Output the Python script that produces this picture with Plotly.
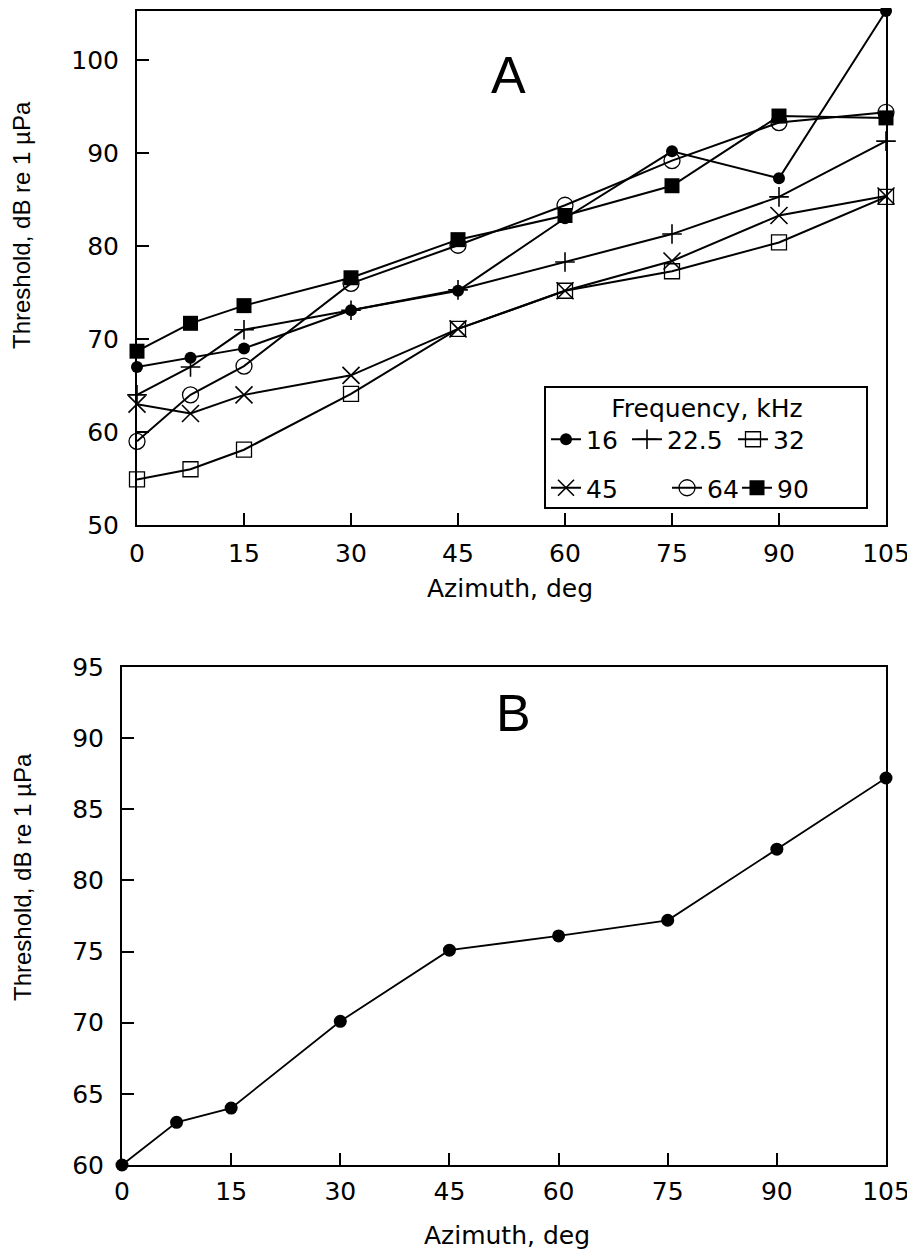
import plotly.graph_objects as go

# ---------------- data ----------------
azimuth = [0, 7.5, 15, 30, 45, 60, 75, 90, 105]

freq_names = ["16", "22.5", "32", "45", "64", "90"]
thr_16 = [67.0, 68.0, 69.0, 73.1, 75.2, 83.0, 90.2, 87.3, 105.3]
thr_22_5 = [64.0, 67.0, 71.0, 73.1, 75.3, 78.3, 81.3, 85.3, 91.3]
thr_32 = [54.9, 56.0, 58.1, 64.1, 71.1, 75.2, 77.3, 80.4, 85.3]
thr_45 = [63.0, 62.0, 64.0, 66.1, 71.1, 75.2, 78.4, 83.3, 85.4]
thr_64 = [59.0, 64.0, 67.1, 76.0, 80.1, 84.4, 89.2, 93.3, 94.4]
thr_90 = [68.7, 71.7, 73.6, 76.6, 80.7, 83.3, 86.5, 94.0, 93.8]

thr_b = [60.0, 63.0, 64.0, 70.1, 75.1, 76.1, 77.2, 82.2, 87.2]

x_ticks = [0, 15, 30, 45, 60, 75, 90, 105]
y_ticks_a = [50, 60, 70, 80, 90, 100]
y_ticks_b = [60, 65, 70, 75, 80, 85, 90, 95]

# ---------------- geometry helpers ----------------
# the page body has an 8 px margin, so the figure is 8 px smaller and
# all target pixel positions are shifted by 8 px
OFF = 8
W, H = 915 - OFF, 1252 - OFF


def px(x):
    return (x - OFF) / W


def py(y):
    return 1 - (y - OFF) / H


TICK_FONT = dict(family="DejaVu Sans", size=25, color="black")
TITLE_FONT_H = dict(family="DejaVu Sans", size=25, color="black")
TITLE_FONT_V = dict(family="Liberation Sans, Arial", size=24, color="black")

styles = {
    "16": dict(symbol="circle", size=12, color="black", line=dict(width=0)),
    "22.5": dict(symbol="cross-thin", size=14, color="black", line=dict(width=1.6, color="black")),
    "32": dict(symbol="square-open", size=15, color="black", line=dict(width=1.3, color="black")),
    "45": dict(symbol="x-thin", size=17, color="black", line=dict(width=1.6, color="black")),
    "64": dict(symbol="circle-open", size=16, color="black", line=dict(width=1.3, color="black")),
    "90": dict(symbol="square", size=15, color="black", line=dict(width=0)),
}
series = {"16": thr_16, "22.5": thr_22_5, "32": thr_32, "45": thr_45, "64": thr_64, "90": thr_90}
legend_of = {"16": "legend", "22.5": "legend", "32": "legend", "45": "legend2", "64": "legend2", "90": "legend2"}
legend_w = {"16": 36, "22.5": 61, "32": 90, "45": 76, "64": 25, "90": 40}

fig = go.Figure()

for name in freq_names:
    fig.add_trace(go.Scatter(
        x=azimuth, y=series[name], name=name, mode="lines+markers",
        line=dict(color="black", width=2),
        marker=styles[name], cliponaxis=False,
        legend=legend_of[name], legendwidth=legend_w[name],
        xaxis="x", yaxis="y",
    ))

fig.add_trace(go.Scatter(
    x=azimuth, y=thr_b, mode="lines+markers", showlegend=False,
    line=dict(color="black", width=1.8),
    marker=dict(symbol="circle", size=13, color="black"),
    cliponaxis=False, xaxis="x2", yaxis="y2",
))

axis_common = dict(
    showline=True, linecolor="black", linewidth=2, mirror=True,
    ticks="inside", ticklen=12, tickwidth=1.5, tickcolor="black",
    showgrid=False, zeroline=False, tickfont=TICK_FONT,
)

fig.update_layout(
    width=W, height=H,
    margin=dict(l=0, r=0, t=0, b=0, autoexpand=False),
    paper_bgcolor="white", plot_bgcolor="white",
    xaxis=dict(domain=[px(137), px(886)], range=[0, 105], tickvals=x_ticks,
               anchor="y", ticklabelstandoff=5, **axis_common),
    yaxis=dict(domain=[py(525), py(11)], range=[50, 105.3], tickvals=y_ticks_a,
               anchor="x", ticklabelstandoff=11, **axis_common),
    xaxis2=dict(domain=[px(122), px(886)], range=[0, 105], tickvals=x_ticks,
                anchor="y2", ticklabelstandoff=3, **axis_common),
    yaxis2=dict(domain=[py(1165), py(667)], range=[60, 95], tickvals=y_ticks_b,
                anchor="x2", ticklabelstandoff=11, **axis_common),
    legend=dict(
        x=px(546), y=py(384), xanchor="left", yanchor="top",
        orientation="h", bgcolor="rgba(0,0,0,0)", borderwidth=0,
        font=dict(family="DejaVu Sans", size=25, color="black"),
        title=dict(text="Frequency, kHz", side="top center",
                   font=dict(family="DejaVu Sans", size=25, color="black")),
    ),
    legend2=dict(
        x=px(546), y=py(465), xanchor="left", yanchor="top",
        orientation="h", bgcolor="rgba(0,0,0,0)", borderwidth=0,
        font=dict(family="DejaVu Sans", size=25, color="black"),
    ),
    shapes=[dict(type="rect", xref="paper", yref="paper",
                 x0=px(545), x1=px(867), y0=py(508), y1=py(387),
                 line=dict(color="black", width=2), layer="above")],
    annotations=[
        dict(text="A", x=px(508), y=py(75), xref="paper", yref="paper", showarrow=False,
             xanchor="center", yanchor="middle",
             font=dict(family="Liberation Sans, Arial", size=52, color="black")),
        dict(text="B", x=px(513), y=py(713), xref="paper", yref="paper", showarrow=False,
             xanchor="center", yanchor="middle",
             font=dict(family="Liberation Sans, Arial", size=52, color="black")),
        dict(text="Threshold, dB re 1 µPa", x=px(22), y=py(225), xref="paper", yref="paper",
             showarrow=False, textangle=-90, xanchor="center", yanchor="middle", font=TITLE_FONT_V),
        dict(text="Threshold, dB re 1 µPa", x=px(22), y=py(877), xref="paper", yref="paper",
             showarrow=False, textangle=-90, xanchor="center", yanchor="middle", font=TITLE_FONT_V),
        dict(text="Azimuth, deg", x=px(510), y=py(589), xref="paper", yref="paper",
             showarrow=False, xanchor="center", yanchor="middle", font=TITLE_FONT_H),
        dict(text="Azimuth, deg", x=px(507), y=py(1235), xref="paper", yref="paper",
             showarrow=False, xanchor="center", yanchor="middle", font=TITLE_FONT_H),
    ],
)

fig.write_html("out.html")
